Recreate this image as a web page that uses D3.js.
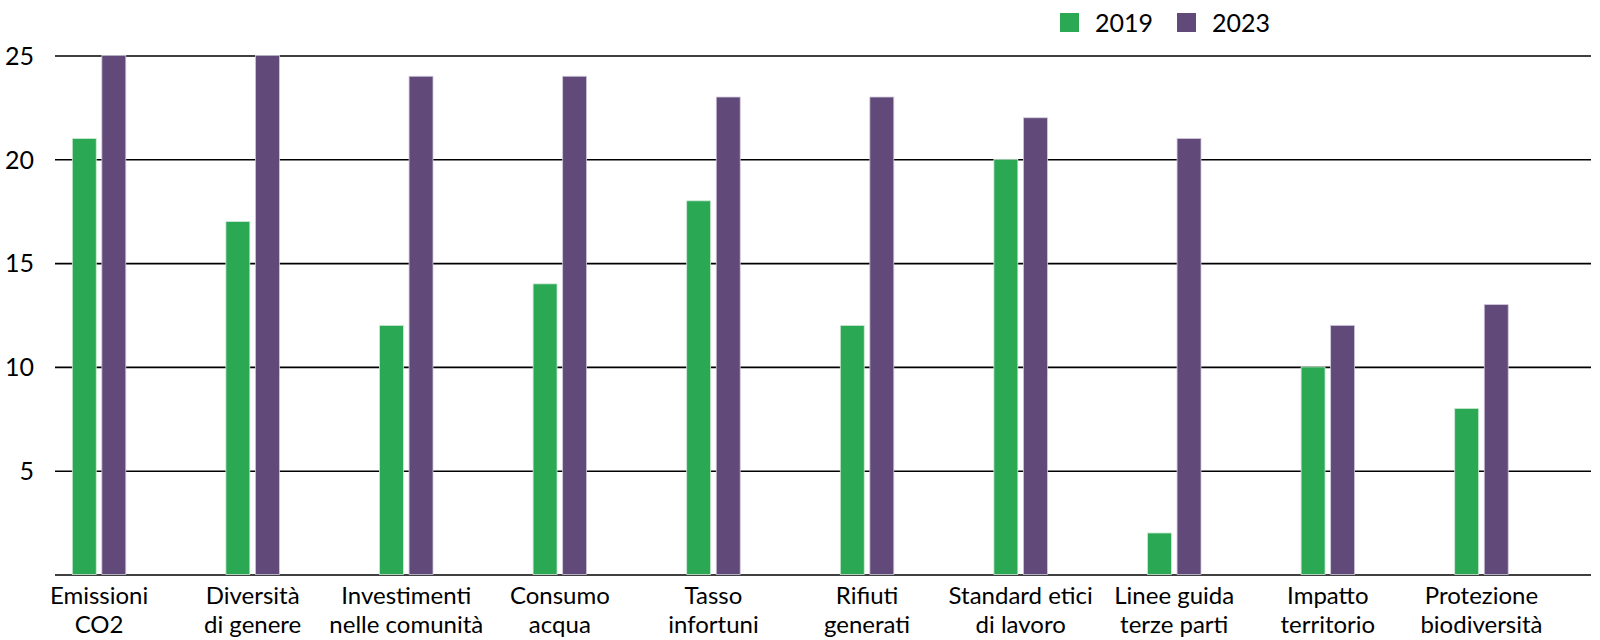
<!DOCTYPE html>
<html>
<head>
<meta charset="utf-8">
<script src="https://cdn.jsdelivr.net/npm/d3@7"></script>
<style>
  body { margin: 0; background: #fff; }
  svg text { font-family: Lato, "Open Sans", sans-serif; fill: #000; }
</style>
</head>
<body>
<svg id="canvas" width="1600" height="640"></svg>
<script>
const categories = [
  ["Emissioni", "CO2"],
  ["Diversità", "di genere"],
  ["Investimenti", "nelle comunità"],
  ["Consumo", "acqua"],
  ["Tasso", "infortuni"],
  ["Rifiuti", "generati"],
  ["Standard etici", "di lavoro"],
  ["Linee guida", "terze parti"],
  ["Impatto", "territorio"],
  ["Protezione", "biodiversità"]
];
const seriesNames = ["2019", "2023"];
const values2019 = [21, 17, 12, 14, 18, 12, 20, 2, 10, 8];
const values2023 = [25, 25, 24, 24, 23, 23, 22, 21, 12, 13];
const yTicks = [5, 10, 15, 20, 25];

const colors = { "2019": "#2aa853", "2023": "#614979" };
const seriesValues = { "2019": values2019, "2023": values2023 };

const canvas = d3.select("#canvas");

const x = d3
  .scaleBand()
  .domain(d3.range(categories.length))
  .range([55, 1591])
  .padding(0);

const xInner = d3
  .scaleBand()
  .domain(seriesNames)
  .range([17.3, 70.8])
  .paddingInner(0.19)
  .paddingOuter(0);

const y = d3.scaleLinear().domain([0, 25]).range([574.5, 55.5]);

// gridlines + baseline
const yAxis = d3
  .axisLeft(y)
  .tickValues([0].concat(yTicks))
  .tickSize(-(1591 - 55))
  .tickFormat((d) => (d === 0 ? "" : d));

const axisG = canvas
  .append("g")
  .attr("transform", "translate(55,0)")
  .call(yAxis);

axisG.select(".domain").remove();
axisG.selectAll(".tick line").attr("stroke", "#000").attr("stroke-width", 1.6);
axisG
  .selectAll(".tick text")
  .attr("x", -21)
  .attr("dy", "0.35em")
  .style("font-size", "25px")
  .style("font-family", "Lato, sans-serif");

// bars
const rows = categories.map((c, i) => ({ index: i }));

const group = canvas
  .selectAll("g.group")
  .data(rows)
  .enter()
  .append("g")
  .attr("class", "group")
  .attr("transform", (d) => "translate(" + x(d.index) + ",0)");

group
  .selectAll("rect")
  .data((d) => seriesNames.map((s) => ({ series: s, value: seriesValues[s][d.index] })))
  .enter()
  .append("rect")
  .attr("x", (d) => xInner(d.series))
  .attr("y", (d) => y(d.value))
  .attr("width", xInner.bandwidth())
  .attr("height", (d) => y(0) - y(d.value))
  .attr("fill", (d) => colors[d.series])
  .attr("stroke", (d) => (d.series === "2019" ? "#cfe9d6" : "#cfc8da"))
  .attr("stroke-width", 0.8);

// category labels, two lines, centred under the pair of bars
const pairMid = xInner("2019") + (xInner("2023") + xInner.bandwidth() - xInner("2019")) / 2;

const labels = group
  .append("text")
  .attr("text-anchor", "middle")
  .attr("x", pairMid)
  .attr("y", 604)
  .style("font-size", "24px");

labels
  .selectAll("tspan")
  .data((d) => categories[d.index])
  .enter()
  .append("tspan")
  .attr("x", pairMid)
  .attr("dy", (d, i) => (i === 0 ? 0 : 29))
  .text((d) => d);

// legend
const legendX = d3.scaleOrdinal().domain(seriesNames).range([1060, 1177]);

const legend = canvas
  .selectAll("g.legend")
  .data(seriesNames)
  .enter()
  .append("g")
  .attr("class", "legend")
  .attr("transform", (d) => "translate(" + legendX(d) + ",13)");

legend
  .append("rect")
  .attr("width", 19)
  .attr("height", 19)
  .attr("fill", (d) => colors[d]);

legend
  .append("text")
  .attr("x", 35)
  .attr("y", 19)
  .style("font-size", "25px")
  .text((d) => d);
</script>
</body>
</html>
